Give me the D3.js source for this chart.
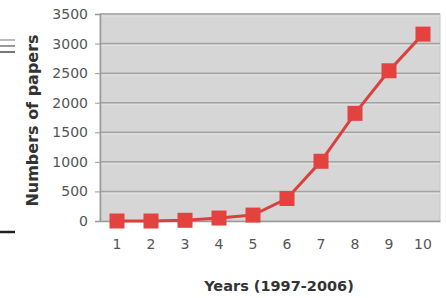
<!DOCTYPE html>
<html>
  <head>
    <meta charset="UTF-8" />
    <style>
      body { margin: 0; background: #fff; }
      svg { display: block; }
    </style>
  </head>
  <body>
    <svg></svg>
    <script src="https://d3js.org/d3.v7.min.js"></script>
    <script>
      let width = 446,
        height = 298;

      // data
      let years = ["1", "2", "3", "4", "5", "6", "7", "8", "9", "10"];
      let papers = [0, 0, 12, 50, 100, 380, 1010, 1820, 2540, 3160];
      let yTicks = [0, 500, 1000, 1500, 2000, 2500, 3000, 3500];

      let margin = { top: 14, right: 6, bottom: 77, left: 100 };

      let svg = d3.select("svg").attr("width", width).attr("height", height);

      // stray marks at the left edge of the crop
      let deco = svg.append("g");
      [[40, "#bbb"], [46, "#999"], [52, "#777"]].forEach((d) => {
        deco.append("line").attr("x1", 0).attr("x2", 15)
          .attr("y1", d[0]).attr("y2", d[0])
          .attr("stroke", d[1]).attr("stroke-width", 2);
      });
      deco.append("line").attr("x1", 0).attr("x2", 15)
        .attr("y1", 232).attr("y2", 232)
        .attr("stroke", "#222").attr("stroke-width", 2.5);

      let x = d3.scaleBand()
        .domain(years)
        .range([margin.left, width - margin.right]);

      let y = d3.scaleLinear()
        .domain([0, 3500])
        .range([height - margin.bottom, margin.top]);

      // plot background
      svg.append("rect")
        .attr("x", margin.left)
        .attr("y", margin.top)
        .attr("width", width - margin.right - margin.left)
        .attr("height", y(0) - margin.top)
        .attr("fill", "#d6d6d6")
        .attr("stroke", "#c4c4c4");

      // gridlines
      let grid = svg.append("g");
      grid.selectAll("line.g1")
        .data(yTicks.slice(1))
        .join("line")
        .attr("class", "g1")
        .attr("x1", margin.left).attr("x2", width - margin.right)
        .attr("y1", (d) => y(d)).attr("y2", (d) => y(d))
        .attr("stroke", "#a3a3a3").attr("stroke-width", 1.5);
      grid.selectAll("line.g2")
        .data(yTicks.slice(1))
        .join("line")
        .attr("class", "g2")
        .attr("x1", margin.left).attr("x2", width - margin.right)
        .attr("y1", (d) => y(d) + 2).attr("y2", (d) => y(d) + 2)
        .attr("stroke", "#e2e2e2").attr("stroke-width", 1);

      // y axis
      let yAxis = svg.append("g")
        .attr("transform", `translate(${margin.left},0)`)
        .call(d3.axisLeft(y).tickValues(yTicks).tickFormat(d3.format("d")).tickSize(5).tickPadding(7));
      yAxis.select(".domain").attr("stroke", "#999").attr("stroke-width", 1.5);
      yAxis.selectAll(".tick line").attr("stroke", "#999");
      yAxis.selectAll("text")
        .attr("fill", "#555")
        .style("font-family", "DejaVu Sans")
        .style("font-size", "14px");

      // x axis
      let xAxis = svg.append("g")
        .attr("transform", `translate(0,${y(0)})`)
        .call(d3.axisBottom(x).tickSize(0).tickPadding(18));
      xAxis.select(".domain").attr("stroke", "#999").attr("stroke-width", 1.5);
      xAxis.selectAll("text")
        .attr("fill", "#555")
        .style("font-family", "DejaVu Sans")
        .style("font-size", "14px");

      // axis titles
      svg.append("text")
        .attr("transform", `translate(38,${(margin.top + y(0)) / 2 + 3}) rotate(-90)`)
        .attr("text-anchor", "middle")
        .attr("fill", "#333")
        .style("font-family", "DejaVu Sans")
        .style("font-weight", "bold")
        .style("font-size", "16px")
        .text("Numbers of papers");

      svg.append("text")
        .attr("x", 279)
        .attr("y", 291)
        .attr("text-anchor", "middle")
        .attr("fill", "#333")
        .style("font-family", "DejaVu Sans")
        .style("font-weight", "bold")
        .style("font-size", "14.5px")
        .text("Years (1997-2006)");

      let cx = (i) => x(years[i]) + x.bandwidth() / 2;

      // line
      svg.append("path")
        .datum(papers)
        .attr("fill", "none")
        .attr("stroke", "#d8413e")
        .attr("stroke-width", 3)
        .attr("d", d3.line().x((d, i) => cx(i)).y((d) => y(d)));

      // square markers
      let s = 15;
      svg.append("g")
        .selectAll("rect")
        .data(papers)
        .join("rect")
        .attr("x", (d, i) => cx(i) - s / 2)
        .attr("y", (d) => y(d) - s / 2)
        .attr("width", s)
        .attr("height", s)
        .attr("fill", "#e4423f");
    </script>
  </body>
</html>
